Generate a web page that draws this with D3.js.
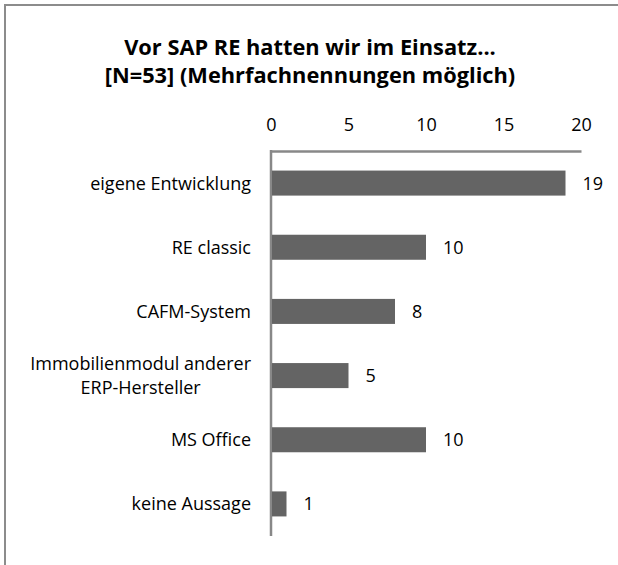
<!DOCTYPE html>
<html><head><meta charset="utf-8">
<script src="https://cdn.jsdelivr.net/npm/d3@7"></script>
<style>body{margin:0;background:#fff}svg{display:block}</style>
</head><body>
<svg id="c" width="618" height="565"></svg>
<script>
const titleLines = ["Vor SAP RE hatten wir im Einsatz...", "[N=53] (Mehrfachnennungen möglich)"];
const categories = ["eigene Entwicklung", "RE classic", "CAFM-System", "Immobilienmodul anderer\nERP-Hersteller", "MS Office", "keine Aussage"];
const values = [19, 10, 8, 5, 10, 1];
const tickValues = [0, 5, 10, 15, 20];

const svg = d3.select("#c");
const font = "'Open Sans', sans-serif";
const fs = 18;
const m = {left: 271, right: 581, top: 151, bottom: 536};

svg.append("line").attr("x1", 5).attr("x2", 618).attr("y1", 5).attr("y2", 5).attr("stroke", "#8c8c8c").attr("stroke-width", 2);
svg.append("line").attr("x1", 5).attr("x2", 5).attr("y1", 4).attr("y2", 565).attr("stroke", "#8c8c8c").attr("stroke-width", 2);

svg.append("g").selectAll("text").data(titleLines).join("text")
  .attr("x", 310).attr("y", (d, i) => 47 + i * 28).attr("dy", "0.36em")
  .attr("text-anchor", "middle").attr("font-family", font).attr("font-weight", "bold")
  .attr("font-size", 21.8).attr("fill", "#000").text(d => d);

const x = d3.scaleLinear().domain([0, 20]).range([m.left, m.right]);
const y = d3.scaleBand().domain(categories).range([m.top, m.bottom]).paddingInner(0.61).paddingOuter(0.305);

const xAxis = svg.append("g").attr("transform", `translate(0,${m.top})`)
  .call(d3.axisTop(x).tickValues(tickValues).tickSize(0).tickPadding(20));
xAxis.select(".domain").attr("stroke", "#888").attr("stroke-width", 2.5);
xAxis.selectAll("text").attr("font-family", font).attr("font-size", fs).attr("fill", "#000");

svg.append("line").attr("x1", m.left).attr("x2", m.left).attr("y1", m.top - 1).attr("y2", m.bottom)
  .attr("stroke", "#888").attr("stroke-width", 2.5);

svg.append("g").selectAll("rect").data(values).join("rect")
  .attr("x", x(0) + 1).attr("y", (d, i) => y(categories[i]))
  .attr("width", d => x(d) - x(0) - 1).attr("height", y.bandwidth())
  .attr("fill", "#646464");

svg.append("g").selectAll("text").data(values).join("text")
  .attr("x", d => x(d) + 17).attr("y", (d, i) => y(categories[i]) + y.bandwidth() / 2)
  .attr("dy", "0.36em").attr("font-family", font).attr("font-size", fs).attr("fill", "#000")
  .text(d => d);

const labelRight = 251;
const lg = svg.append("g");
categories.forEach(c => {
  const lines = c.split("\n");
  const cy = y(c) + y.bandwidth() / 2;
  const lh = 24;
  const texts = lines.map((ln, i) => lg.append("text")
    .attr("y", cy + (i - (lines.length - 1) / 2) * lh).attr("dy", "0.36em")
    .attr("font-family", font).attr("font-size", fs).attr("fill", "#000")
    .attr("text-anchor", "middle").text(ln));
  const widths = texts.map(t => t.node().getComputedTextLength());
  const maxW = d3.max(widths);
  texts.forEach(t => t.attr("x", labelRight - maxW / 2));
});
</script>
</body></html>
